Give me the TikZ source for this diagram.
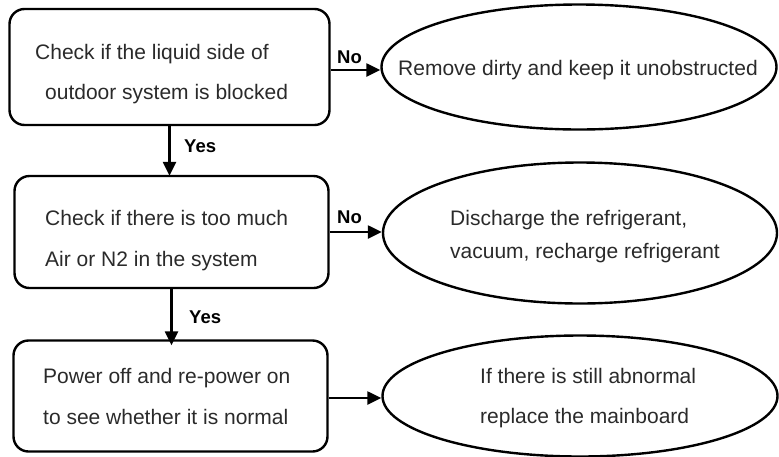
\documentclass[tikz,border=0pt]{standalone}
\usepackage{fontspec}
\setmainfont{Liberation Sans}
\usetikzlibrary{shapes.geometric,arrows.meta}
\definecolor{txt}{HTML}{2A2A2A}
\tikzset{
  stepbox/.style={draw, line width=2.4pt, rounded corners=15pt, inner sep=0pt},
  oval/.style={draw, ellipse, line width=2.4pt, inner sep=0pt},
  txtline/.style={anchor=base west, inner sep=0pt, text=txt, font=\fontsize{21}{21}\selectfont},
  lbl/.style={anchor=base west, inner sep=0pt, font=\bfseries\fontsize{18.5}{18.5}\selectfont},
  arr/.style={line width=2.4pt, -{Triangle[length=14pt,width=13pt]}}
}
\begin{document}
\begin{tikzpicture}[x=1pt,y=-1pt]
\useasboundingbox (0,0) rectangle (779,456);
% boxes
\node[stepbox, minimum width=320pt, minimum height=116pt] (b1) at (169.5,67) {};
\node[stepbox, minimum width=314pt, minimum height=112pt] (b2) at (171.5,232) {};
\node[stepbox, minimum width=314pt, minimum height=111pt] (b3) at (170.5,396) {};
% ellipses
\node[oval, minimum width=395pt, minimum height=125pt] (e1) at (579,67) {};
\node[oval, minimum width=394pt, minimum height=141pt] (e2) at (580,233) {};
\node[oval, minimum width=395pt, minimum height=121pt] (e3) at (580,396) {};
% texts
\node[txtline] (t11) at (35,59) {Check if the liquid side of};
\node[txtline] (t12) at (45,99) {outdoor system is blocked};
\node[txtline] (t21) at (45,225.5) {Check if there is too much};
\node[txtline] (t22) at (45,266.5) {Air or N2 in the system};
\node[txtline] (t31) at (43,383) {Power off and re-power on};
\node[txtline] (t32) at (43,424) {to see whether it is normal};
\node[txtline] (u1) at (398,75) {Remove dirty and keep it unobstructed};
\node[txtline] (u21) at (450,225) {Discharge the refrigerant,};
\node[txtline] (u22) at (450,258) {vacuum, recharge refrigerant};
\node[txtline] (u31) at (480,383) {If there is still abnormal};
\node[txtline] (u32) at (480,423) {replace the mainboard};
% connectors
\coordinate (a1) at ([yshift=-3pt]b1.east);
\draw[arr] (a1) -- (a1 -| e1.west);
\draw[arr] (b2.east) -- (b2.east -| e2.west);
\coordinate (a3) at ([yshift=-2pt]b3.east);
\draw[arr] (a3) -- (a3 -| e3.west);
\coordinate (c2) at ([yshift=-1pt]b2.north);
\draw[arr] (b1.south) -- (b1.south |- c2);
\coordinate (c3) at ([yshift=-6pt]b3.north);
\draw[arr] (b2.south) -- (b2.south |- c3);
% labels
\node[lbl] (n1) at (337,63) {No};
\node[lbl] (n2) at (337,223) {No};
\node[lbl] (y1) at (184,152) {Yes};
\node[lbl] (y2) at (189,323) {Yes};
\end{tikzpicture}
\end{document}
